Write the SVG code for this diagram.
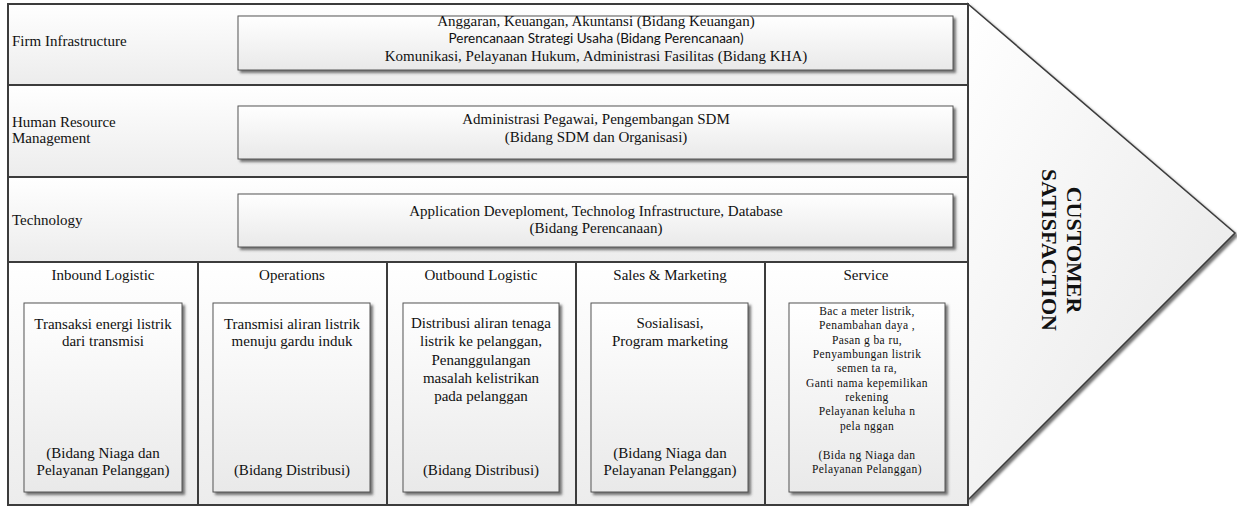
<svg xmlns="http://www.w3.org/2000/svg" width="1237" height="508" viewBox="0 0 1237 508">
<defs>
<linearGradient id="rowG" x1="0" y1="0" x2="0" y2="1">
<stop offset="0" stop-color="#ffffff"/>
<stop offset="1" stop-color="#ececec"/>
</linearGradient>
<linearGradient id="boxG" x1="0" y1="0" x2="0" y2="1">
<stop offset="0" stop-color="#ffffff"/>
<stop offset="1" stop-color="#e9e9e9"/>
</linearGradient>
<linearGradient id="arrG" x1="0" y1="0" x2="1" y2="1">
<stop offset="0" stop-color="#ffffff"/>
<stop offset="1" stop-color="#e6e6e6"/>
</linearGradient>
<filter id="sh" x="-10%" y="-10%" width="130%" height="130%">
<feDropShadow dx="2.5" dy="2.5" stdDeviation="1" flood-color="#555555" flood-opacity="0.8"/>
</filter>
<style>
.row{fill:url(#rowG);stroke:#3c3c3c;stroke-width:2}
.box{fill:url(#boxG);stroke:#555555;stroke-width:1;filter:url(#sh)}
.t{font-family:"Liberation Serif","Times New Roman",serif;font-size:15px;fill:#111111}
.c{text-anchor:middle}
.s{font-family:Lato,"Liberation Sans",sans-serif;font-size:13.5px;fill:#111111}
.sv{font-family:"Liberation Serif","Times New Roman",serif;font-size:11.5px;fill:#111111;text-anchor:middle;letter-spacing:0.4px}
.big{font-family:"Liberation Serif","Times New Roman",serif;font-size:22px;font-weight:bold;fill:#111111;text-anchor:middle}
</style>
</defs>
<rect width="1237" height="508" fill="#ffffff"/>

<g id="customer-satisfaction">
<polygon points="968,4 1235,233 968,500" fill="url(#arrG)" stroke="#3c3c3c" stroke-width="1.5" filter="url(#sh)"/>
<text class="big" transform="translate(1067,250) rotate(90)"><tspan x="0" y="0">CUSTOMER</tspan><tspan x="0" y="25">SATISFACTION</tspan></text>
</g>

<g id="firm-infrastructure">
<rect class="row" x="8" y="4" width="960" height="81"/>
<text class="t" x="12" y="46">Firm Infrastructure</text>
<rect class="box" x="238" y="16" width="715" height="54"/>
<text class="t c" x="596" y="26">Anggaran, Keuangan, Akuntansi (Bidang Keuangan)</text>
<text class="s c" x="596" y="43">Perencanaan Strategi Usaha (Bidang Perencanaan)</text>
<text class="t c" x="596" y="61">Komunikasi, Pelayanan Hukum, Administrasi Fasilitas (Bidang KHA)</text>
</g>

<g id="human-resource-management">
<rect class="row" x="8" y="85" width="960" height="92"/>
<text class="t" x="12" y="127">Human Resource</text>
<text class="t" x="12" y="143">Management</text>
<rect class="box" x="238" y="106" width="715" height="53"/>
<text class="t c" x="596" y="124">Administrasi Pegawai, Pengembangan SDM</text>
<text class="t c" x="596" y="142">(Bidang SDM dan Organisasi)</text>
</g>

<g id="technology">
<rect class="row" x="8" y="177" width="960" height="85"/>
<text class="t" x="12" y="225">Technology</text>
<rect class="box" x="238" y="194" width="715" height="53"/>
<text class="t c" x="596" y="216">Application Deveploment, Technolog Infrastructure, Database</text>
<text class="t c" x="596" y="233">(Bidang Perencanaan)</text>
</g>

<g id="inbound-logistic">
<rect class="row" x="8" y="262" width="190" height="243"/>
<text class="t c" x="103" y="280">Inbound Logistic</text>
<rect class="box" x="24" y="303" width="158" height="189"/>
<text class="t c" x="103" y="329">Transaksi energi listrik</text>
<text class="t c" x="103" y="346">dari transmisi</text>
<text class="t c" x="103" y="458">(Bidang Niaga dan</text>
<text class="t c" x="103" y="475">Pelayanan Pelanggan)</text>
</g>

<g id="operations">
<rect class="row" x="198" y="262" width="189" height="243"/>
<text class="t c" x="292" y="280">Operations</text>
<rect class="box" x="213" y="303" width="157" height="189"/>
<text class="t c" x="292" y="329">Transmisi aliran listrik</text>
<text class="t c" x="292" y="346">menuju gardu induk</text>
<text class="t c" x="292" y="475">(Bidang Distribusi)</text>
</g>

<g id="outbound-logistic">
<rect class="row" x="387" y="262" width="189" height="243"/>
<text class="t c" x="481" y="280">Outbound Logistic</text>
<rect class="box" x="403" y="303" width="156" height="189"/>
<text class="t c" x="481" y="328">Distribusi aliran tenaga</text>
<text class="t c" x="481" y="346">listrik ke pelanggan,</text>
<text class="t c" x="481" y="365">Penanggulangan</text>
<text class="t c" x="481" y="383">masalah kelistrikan</text>
<text class="t c" x="481" y="401">pada pelanggan</text>
<text class="t c" x="481" y="475">(Bidang Distribusi)</text>
</g>

<g id="sales-marketing">
<rect class="row" x="576" y="262" width="189" height="243"/>
<text class="t c" x="670" y="280">Sales &amp; Marketing</text>
<rect class="box" x="591" y="303" width="157" height="189"/>
<text class="t c" x="670" y="328">Sosialisasi,</text>
<text class="t c" x="670" y="346">Program marketing</text>
<text class="t c" x="670" y="458">(Bidang Niaga dan</text>
<text class="t c" x="670" y="475">Pelayanan Pelanggan)</text>
</g>

<g id="service">
<rect class="row" x="765" y="262" width="203" height="243"/>
<text class="t c" x="866" y="280">Service</text>
<rect class="box" x="789" y="303" width="156" height="189"/>
<text class="sv" x="867" y="315">Bac a meter listrik,</text>
<text class="sv" x="867" y="329">Penambahan daya ,</text>
<text class="sv" x="867" y="344">Pasan g ba ru,</text>
<text class="sv" x="867" y="358">Penyambungan listrik</text>
<text class="sv" x="867" y="372">semen ta ra,</text>
<text class="sv" x="867" y="387">Ganti nama kepemilikan</text>
<text class="sv" x="867" y="401">rekening</text>
<text class="sv" x="867" y="415">Pelayanan keluha n</text>
<text class="sv" x="867" y="430">pela nggan</text>
<text class="sv" x="867" y="459">(Bida ng Niaga dan</text>
<text class="sv" x="867" y="473">Pelayanan Pelanggan)</text>
</g>

<g id="connectors"></g>
</svg>
